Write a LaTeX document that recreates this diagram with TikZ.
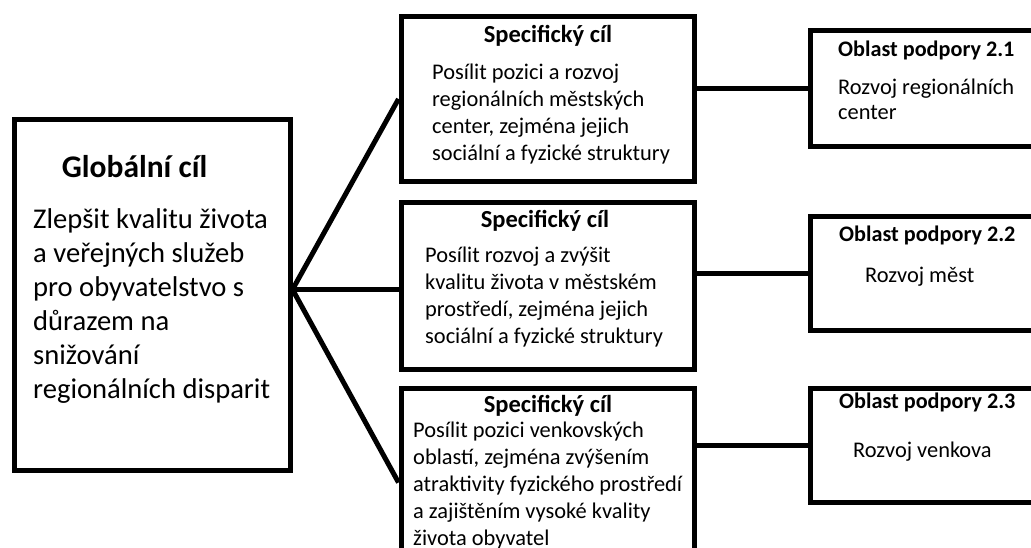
\documentclass[tikz,border=0pt]{standalone}
\usepackage{fontspec}
\setmainfont{Carlito}
\usetikzlibrary{positioning}

\begin{document}
\begin{tikzpicture}[
            x=1pt, y=-1pt,
            box/.style={draw, line width=5pt, anchor=north west, inner sep=0pt},
            conn/.style={line width=5pt},
            bigtitle/.style={font=\bfseries\fontsize{31.5}{36}\selectfont, inner sep=0pt, anchor=base},
            bigtext/.style={font=\fontsize{28.6}{34}\selectfont, align=left, inner sep=0pt, anchor=base west},
            midtitle/.style={font=\bfseries\fontsize{24.5}{27}\selectfont, inner sep=0pt, anchor=base},
            midtext/.style={font=\fontsize{22.4}{27}\selectfont, align=left, inner sep=0pt, anchor=base west},
            optitle/.style={font=\bfseries\fontsize{22.2}{25}\selectfont, inner sep=0pt, anchor=base west},
            optext/.style={font=\fontsize{22.4}{25}\selectfont, align=left, inner sep=0pt, anchor=base west}
        ]
            \clip (0,0) rectangle (1031,548);

            % Global goal (text nodes sit on their last baseline)
            \node[box, minimum width=276pt, minimum height=350pt] (gc) at (11.5,117.5) {};
            \node[bigtitle] (gctitle) at (134.5,178) {Globální cíl};
            \node[bigtext] (gctext) at (33,398) {Zlepšit kvalitu života\\a veřejných služeb\\pro obyvatelstvo s\\důrazem na\\snižování\\regionálních disparit};

            % Specific goals
            \node[box, minimum width=293.5pt, minimum height=165pt] (sc1) at (398.5,14) {};
            \node[box, minimum width=293.5pt, minimum height=167pt] (sc2) at (398.5,200) {};
            \node[box, minimum width=293.5pt, minimum height=188pt] (sc3) at (398.5,386) {};
            \node[midtitle] (sc1title) at (548,43) {Specifický cíl};
            \node[midtitle] (sc2title) at (545,228) {Specifický cíl};
            \node[midtitle] (sc3title) at (548,412) {Specifický cíl};
            \node[midtext] (sc1text) at (432,161) {Posílit pozici a rozvoj\\regionálních městských\\center, zejména jejich\\sociální a fyzické struktury};
            \node[midtext] (sc2text) at (425,343) {Posílit rozvoj a zvýšit\\kvalitu života v městském\\prostředí, zejména jejich\\sociální a fyzické struktury};
            \node[midtext] (sc3text) at (413,545) {Posílit pozici venkovských\\oblastí, zejména zvýšením\\atraktivity fyzického prostředí\\a zajištěním vysoké kvality\\života obyvatel};

            % Support areas
            \node[box, minimum width=260pt, minimum height=116pt] (op1) at (808,28) {};
            \node[box, minimum width=260pt, minimum height=114pt] (op2) at (808,214) {};
            \node[box, minimum width=260pt, minimum height=114pt] (op3) at (808,386) {};
            \node[optitle] (op1title) at (838,57) {Oblast podpory 2.1};
            \node[optitle] (op2title) at (839,242) {Oblast podpory 2.2};
            \node[optitle] (op3title) at (839,408) {Oblast podpory 2.3};
            \node[optext] (op1text) at (838,120) {Rozvoj regionálních\\center};
            \node[optext] (op2text) at (865,283) {Rozvoj měst};
            \node[optext] (op3text) at (853,457) {Rozvoj venkova};

            % Connectors
            \draw[conn] ([yshift=5.5pt]gc.east) -- (sc1.west);
            \draw[conn] ([yshift=5.5pt]gc.east) -- ([yshift=5.5pt]gc.east -| sc2.west);
            \draw[conn] ([yshift=5.5pt]gc.east) -- (sc3.west);
            \draw[conn] (op1.west -| sc1.east) -- (op1.west);
            \draw[conn] (op2.west -| sc2.east) -- (op2.west);
            \draw[conn] (op3.west -| sc3.east) -- (op3.west);
        \end{tikzpicture}
\end{document}
